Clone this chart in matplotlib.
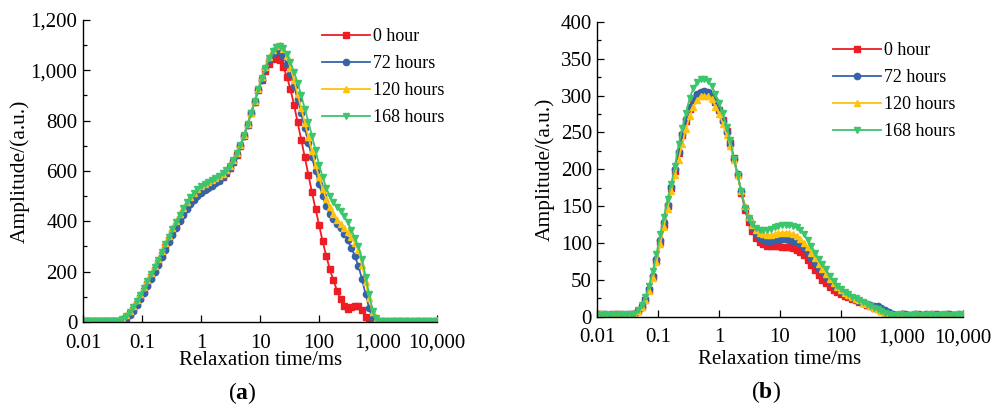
#! /usr/bin/python3

import numpy as np
import matplotlib
matplotlib.use('Agg')
import matplotlib.pyplot as plt
from matplotlib.ticker import FuncFormatter, MultipleLocator, LogLocator, NullFormatter

plt.rcParams['font.family'] = ['Liberation Serif', 'DejaVu Serif']
plt.rcParams['mathtext.fontset'] = 'custom'
plt.rcParams['mathtext.rm'] = 'Liberation Serif'
plt.rcParams['mathtext.bf'] = 'Liberation Serif:bold'

# T2 relaxation time grid (ms), 100 log-spaced points from 0.01 to 10,000
t2 = np.logspace(-2, 4, 100)

labels = ['0 hour', '72 hours', '120 hours', '168 hours']
colors = ['#EE1C25', '#3563A8', '#FFC20E', '#3CC56C']
markers = ['s', 'o', '^', 'v']

# panel (a)
red_a = [3, 3, 2, 2, 3, 2, 2, 3, 2, 3,
         4, 8, 16, 30, 48, 70, 95, 122, 150, 178,
         206, 236, 266, 296, 326, 355, 383, 410, 435, 457,
         477, 494, 508, 520, 530, 539, 547, 555, 565, 577,
         592, 612, 636, 665, 700, 740, 784, 830, 876, 922,
         962, 998, 1027, 1046, 1052, 1040, 1012, 975, 925, 862,
         793, 725, 655, 585, 515, 450, 385, 320, 262, 210,
         165, 125, 90, 62, 52, 58, 64, 62, 48, 18,
         2, 1, 1, 0, 1, 1, 0, 1, 1, 0,
         1, 1, 0, 1, 1, 0, 1, 1, 1, 0]
blue_a = [2, 3, 2, 3, 2, 3, 3, 2, 3, 2,
          4, 8, 15, 28, 45, 66, 90, 116, 143, 170,
          198, 227, 257, 287, 317, 346, 374, 400, 425, 447,
          467, 484, 499, 512, 523, 533, 542, 551, 562, 575,
          591, 611, 636, 665, 700, 740, 784, 830, 876, 922,
          963, 1005, 1040, 1065, 1075, 1072, 1055, 1025, 985, 938,
          885, 830, 770, 712, 655, 600, 548, 500, 460, 428,
          408, 390, 372, 350, 325, 295, 262, 222, 170, 110,
          55, 15, 3, 2, 3, 2, 2, 3, 2, 3,
          2, 2, 3, 2, 3, 2, 2, 3, 2, 3]
yellow_a = [6, 5, 6, 5, 6, 6, 5, 6, 5, 6,
            8, 15, 26, 42, 62, 86, 112, 139, 166, 194,
            222, 252, 282, 312, 342, 372, 401, 428, 453, 475,
            495, 512, 527, 539, 549, 557, 564, 571, 579, 589,
            602, 620, 643, 671, 705, 744, 787, 832, 879, 927,
            972, 1015, 1052, 1080, 1096, 1100, 1085, 1055, 1010, 960,
            905, 850, 792, 735, 680, 625, 575, 530, 488, 455,
            428, 406, 388, 372, 356, 338, 315, 285, 228, 160,
            95, 38, 8, 5, 6, 5, 5, 6, 5, 6,
            5, 5, 6, 5, 6, 5, 5, 6, 5, 6]
green_a = [3, 4, 3, 4, 3, 3, 4, 3, 4, 3,
           5, 12, 22, 38, 58, 82, 108, 135, 162, 190,
           218, 248, 278, 308, 338, 368, 398, 426, 452, 475,
           496, 513, 528, 540, 550, 558, 565, 572, 580, 590,
           603, 620, 642, 670, 703, 742, 785, 830, 877, 925,
           968, 1010, 1048, 1076, 1093, 1095, 1088, 1065, 1032, 993,
           950, 900, 848, 795, 740, 682, 625, 575, 533, 500,
           475, 458, 440, 420, 397, 365, 335, 300, 250, 180,
           110, 45, 15, 4, 3, 4, 3, 3, 4, 3,
           4, 3, 3, 4, 3, 4, 3, 3, 4, 3]

# panel (b)
red_b = [3, 3, 2, 2, 3, 2, 3, 2, 2, 3,
         3, 7, 13, 22, 36, 54, 76, 101, 125, 150,
         174, 198, 222, 246, 266, 282, 294, 301, 304, 305,
         304, 299, 291, 280, 267, 252, 236, 215, 192, 168,
         145, 128, 116, 107, 101, 98, 96, 96, 96, 96,
         95, 95, 94, 93, 91, 88, 83, 77, 70, 63,
         56, 50, 45, 40, 36, 33, 31, 28, 26, 24,
         22, 20, 18, 16, 14, 12, 10, 8, 6, 4,
         2, 2, 2, 3, 2, 2, 2, 3, 2, 2,
         2, 3, 2, 2, 2, 3, 2, 2, 2, 2]
blue_b = [2, 2, 3, 2, 2, 3, 2, 2, 3, 2,
          3, 7, 13, 23, 37, 55, 78, 104, 128, 152,
          176, 200, 224, 248, 268, 284, 295, 302, 305, 306,
          305, 300, 292, 280, 266, 250, 234, 214, 193, 170,
          148, 132, 121, 112, 107, 104, 103, 103, 104, 104,
          105, 105, 104, 103, 101, 98, 93, 87, 80, 73,
          66, 60, 54, 48, 43, 39, 35, 31, 28, 25,
          23, 21, 19, 17, 16, 15, 14, 12, 9, 6,
          3, 2, 2, 3, 2, 2, 3, 2, 2, 3,
          2, 2, 3, 2, 2, 3, 2, 2, 3, 2]
yellow_b = [5, 5, 4, 4, 3, 3, 3, 2, 3, 2,
            3, 7, 13, 22, 35, 52, 74, 98, 122, 146,
            170, 192, 213, 235, 255, 272, 285, 294, 299, 300,
            299, 295, 285, 275, 262, 247, 232, 212, 192, 170,
            150, 135, 125, 118, 114, 112, 111, 111, 112, 113,
            114, 114, 113, 112, 110, 106, 100, 94, 87, 80,
            72, 65, 58, 51, 45, 40, 36, 32, 29, 26,
            24, 22, 19, 17, 14, 12, 10, 7, 5, 3,
            2, 2, 3, 2, 2, 3, 2, 2, 3, 2,
            2, 3, 2, 2, 3, 2, 2, 3, 2, 3]
green_b = [3, 2, 3, 2, 2, 3, 2, 3, 2, 3,
           3, 9, 16, 27, 42, 62, 85, 112, 135, 160,
           180, 205, 234, 256, 276, 297, 310, 318, 323, 323,
           320, 313, 302, 290, 276, 258, 240, 214, 192, 170,
           148, 134, 126, 120, 118, 118, 118, 119, 121, 123,
           124, 125, 124, 123, 121, 118, 112, 104, 96, 87,
           78, 71, 64, 55, 48, 42, 37, 33, 30, 27,
           25, 22, 20, 17, 14, 12, 10, 7, 5, 3,
           2, 2, 3, 2, 2, 2, 3, 2, 2, 2,
           3, 2, 2, 2, 3, 2, 2, 2, 3, 2]

x_ticks = [0.01, 0.1, 1, 10, 100, 1000, 10000]


def fmt_num(v, pos=None):
    if v < 1:
        return '{:g}'.format(v)
    return '{:,.0f}'.format(v)


def style_axis(ax, ymax, ystep):
    ax.set_xscale('log')
    ax.set_xlim(0.01, 10000)
    ax.set_ylim(0, ymax)
    ax.set_xticks(x_ticks)
    ax.xaxis.set_major_formatter(FuncFormatter(fmt_num))
    ax.xaxis.set_minor_locator(LogLocator(base=10, subs=np.arange(2, 10)))
    ax.xaxis.set_minor_formatter(NullFormatter())
    ax.yaxis.set_major_locator(MultipleLocator(ystep))
    ax.yaxis.set_minor_locator(MultipleLocator(ystep / 2))
    ax.yaxis.set_major_formatter(FuncFormatter(fmt_num))
    ax.spines['top'].set_visible(False)
    ax.spines['right'].set_visible(False)
    for s in ('left', 'bottom'):
        ax.spines[s].set_linewidth(1.0)
    ax.tick_params(which='both', direction='in', labelsize=15, width=0.9)
    ax.tick_params(which='major', length=5)
    ax.tick_params(which='minor', length=3)
    ax.tick_params(axis='x', pad=8.5)
    ax.tick_params(axis='y', pad=4)
    ax.set_xlabel('Relaxation time/ms', fontsize=15)
    ax.set_ylabel('Amplitude/(a.u.)', fontsize=15.5)


fig = plt.figure(figsize=(10.03, 4.16), dpi=100)
ax1 = fig.add_axes([0.0828, 0.226, 0.353, 0.726])
ax2 = fig.add_axes([0.5957, 0.239, 0.364, 0.708])

for ax, series in ((ax1, [red_a, blue_a, yellow_a, green_a]),
                   (ax2, [red_b, blue_b, yellow_b, green_b])):
    for vals, lab, col, mk in zip(series, labels, colors, markers):
        ax.plot(t2, vals, color=col, marker=mk, markersize=4.5,
                linewidth=1.3, label=lab)

style_axis(ax1, 1200, 200)
style_axis(ax2, 400, 50)

ax1.yaxis.set_label_coords(-0.15, 0.5)
ax2.yaxis.set_label_coords(-0.116, 0.5)
ax1.xaxis.set_label_coords(0.5, -0.097)
ax2.xaxis.set_label_coords(0.5, -0.112)

leg_kw = dict(frameon=False, fontsize=13, handlelength=2.65,
              handletextpad=0.2, labelspacing=0.55, borderpad=0,
              borderaxespad=0, loc='upper left',
              bbox_transform=fig.transFigure)
ax1.legend(bbox_to_anchor=(0.321, 0.932), **leg_kw)
ax2.legend(bbox_to_anchor=(0.8305, 0.898), **leg_kw)

fig.text(0.2415, 0.055, r'($\mathbf{a}$)', ha='center', va='center',
         fontsize=17)
fig.text(0.7635, 0.058, r'($\mathbf{b}$)', ha='center', va='center',
         fontsize=17)

fig.savefig('out.png', dpi=100)
